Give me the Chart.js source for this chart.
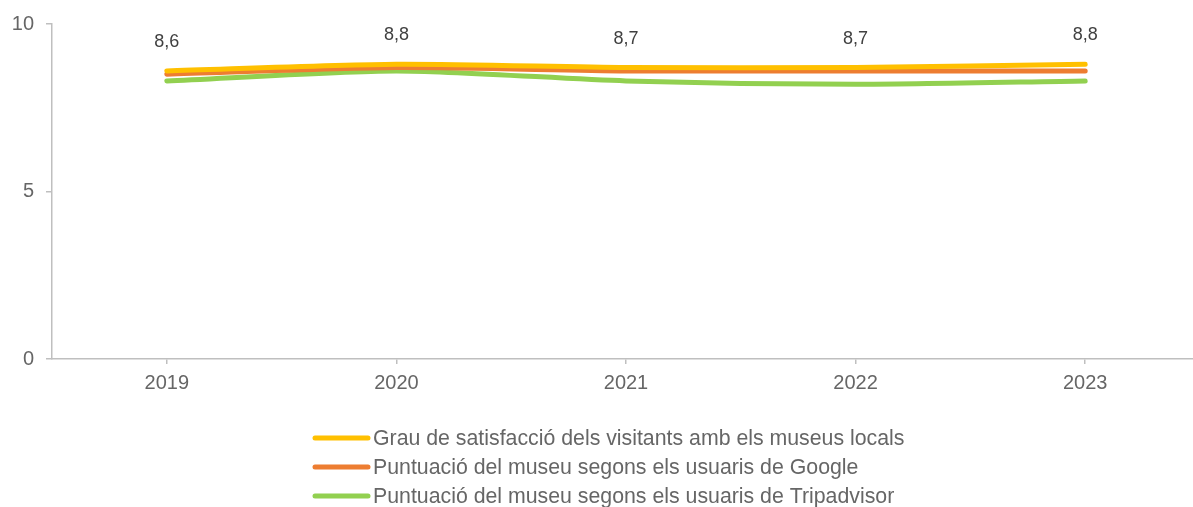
<!DOCTYPE html>
<html>
<head>
<meta charset="utf-8">
<script src="https://cdn.jsdelivr.net/npm/chart.js@4"></script>
<style>
  html, body { margin: 0; padding: 0; background: #fff; overflow: hidden; }
  #wrap { width: 1200px; height: 507px; }
</style>
</head>
<body>
<div id="wrap"><canvas id="myChart" width="1200" height="507"></canvas></div>
<script>
const years = ['2019', '2020', '2021', '2022', '2023'];
const satisfaccio = [8.6, 8.8, 8.7, 8.7, 8.8];
const google = [8.5, 8.7, 8.6, 8.6, 8.6];
const tripadvisor = [8.3, 8.6, 8.3, 8.2, 8.3];
const yTicks = [0, 5, 10];

const seriesNames = [
    'Grau de satisfacció dels visitants amb els museus locals',
    'Puntuació del museu segons els usuaris de Google',
    'Puntuació del museu segons els usuaris de Tripadvisor'
];
const seriesColors = ['#FFC000', '#ED7D31', '#92D050'];

const font = 'Liberation Sans, Arial, sans-serif';
const textGrey = '#666666';

// value labels above the first series
const valueLabels = {
    id: 'valueLabels',
    afterDatasetsDraw(chart) {
        const ctx = chart.ctx;
        const meta = chart.getDatasetMeta(0);
        ctx.save();
        ctx.font = '18px ' + font;
        ctx.fillStyle = '#404040';
        ctx.textAlign = 'center';
        ctx.textBaseline = 'middle';
        meta.data.forEach(function (pt, i) {
            ctx.fillText(satisfaccio[i].toFixed(1).replace('.', ','), pt.x, pt.y - 29);
        });
        ctx.restore();
    }
};

// stacked legend under the axis
const stackedLegend = {
    id: 'stackedLegend',
    afterDraw(chart) {
        const ctx = chart.ctx;
        ctx.save();
        ctx.font = '21.3px ' + font;
        ctx.textBaseline = 'middle';
        chart.data.datasets.forEach(function (ds, i) {
            const y = 438 + i * 29;
            ctx.strokeStyle = ds.borderColor;
            ctx.lineWidth = 5;
            ctx.lineCap = 'round';
            ctx.beginPath();
            ctx.moveTo(315, y);
            ctx.lineTo(368, y);
            ctx.stroke();
            ctx.fillStyle = textGrey;
            ctx.fillText(ds.label, 373, y + 1);
        });
        ctx.restore();
    }
};

const data = {
    labels: years,
    datasets: [
        { label: seriesNames[0], data: satisfaccio },
        { label: seriesNames[1], data: google },
        { label: seriesNames[2], data: tripadvisor }
    ].map(function (ds, i) {
        ds.borderColor = seriesColors[i];
        ds.backgroundColor = seriesColors[i];
        ds.borderWidth = 5;
        ds.borderCapStyle = 'round';
        ds.borderJoinStyle = 'round';
        ds.pointRadius = 0;
        ds.tension = 0.25;
        return ds;
    })
};

const myChart = new Chart(document.getElementById('myChart'), {
    type: 'line',
    data: data,
    plugins: [valueLabels, stackedLegend],
    options: {
        responsive: false,
        animation: false,
        events: [],
        layout: { padding: { top: 24, left: 0, right: 0, bottom: 0 } },
        plugins: {
            legend: { display: false },
            tooltip: { enabled: false }
        },
        scales: {
            x: {
                offset: true,
                afterFit: function (scale) { scale.height = 148; },
                grid: {
                    display: true,
                    drawOnChartArea: false,
                    drawTicks: true,
                    tickLength: 5,
                    color: '#BFBFBF',
                    lineWidth: 1.5,
                    offset: false
                },
                border: { color: '#BFBFBF', width: 1.5 },
                ticks: {
                    color: textGrey,
                    font: { family: font, size: 20 },
                    padding: 7,
                    maxRotation: 0
                }
            },
            y: {
                min: 0,
                max: 10,
                afterFit: function (scale) { scale.width = 52; },
                afterBuildTicks: function (scale) {
                    scale.ticks = yTicks.map(function (v) { return { value: v }; });
                },
                grid: {
                    display: true,
                    drawOnChartArea: false,
                    drawTicks: true,
                    tickLength: 6,
                    color: '#BFBFBF',
                    lineWidth: 1.5
                },
                border: { color: '#BFBFBF', width: 1.5 },
                ticks: {
                    color: textGrey,
                    font: { family: font, size: 20 },
                    padding: 12
                }
            }
        }
    }
});
</script>
</body>
</html>
